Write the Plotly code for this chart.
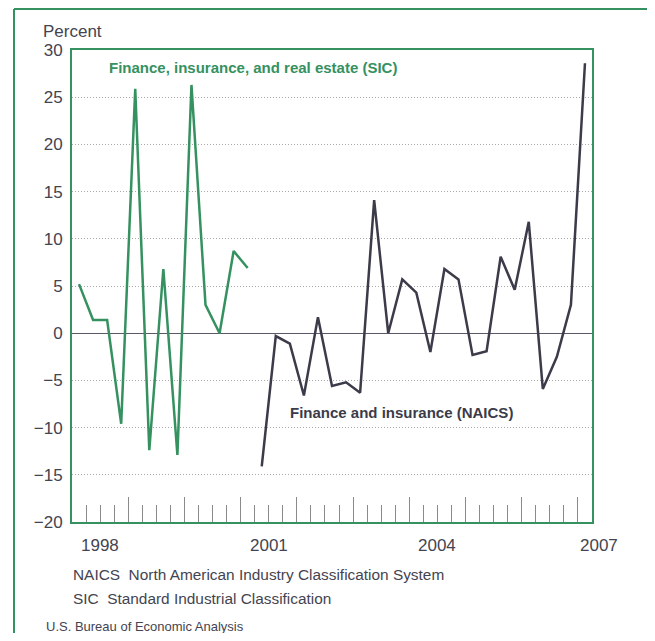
import plotly.graph_objects as go

# Quarterly percent changes
sic_quarters = ["1998Q1", "1998Q2", "1998Q3", "1998Q4",
                "1999Q1", "1999Q2", "1999Q3", "1999Q4",
                "2000Q1", "2000Q2", "2000Q3", "2000Q4",
                "2001Q1"]
sic_values = [5.2, 1.4, 1.4, -9.6, 25.9, -12.4, 6.8, -12.9, 26.3, 3.0, 0.0, 8.7, 6.9]

naics_quarters = ["2001Q2", "2001Q3", "2001Q4",
                  "2002Q1", "2002Q2", "2002Q3", "2002Q4",
                  "2003Q1", "2003Q2", "2003Q3", "2003Q4",
                  "2004Q1", "2004Q2", "2004Q3", "2004Q4",
                  "2005Q1", "2005Q2", "2005Q3", "2005Q4",
                  "2006Q1", "2006Q2", "2006Q3", "2006Q4",
                  "2007Q1"]
naics_values = [-14.1, -0.3, -1.1, -6.6, 1.7, -5.6, -5.2, -6.3, 14.1, 0.0, 5.7, 4.3,
                -2.0, 6.8, 5.7, -2.3, -1.9, 8.1, 4.6, 11.8, -5.9, -2.5, 3.0, 28.6]

year_labels = ["1998", "2001", "2004", "2007"]
year_label_pos = [1998.5, 2001.5, 2004.5, 2007.38]
y_ticks = [-20, -15, -10, -5, 0, 5, 10, 15, 20, 25, 30]


def qpos(q):
    y, n = q.split("Q")
    return int(y) + (int(n) - 1) * 0.25 + 0.125


GREEN = "#35915f"
DARK = "#3b3b4a"
TXT = "#444450"
FONT = "Liberation Sans, Arial, sans-serif"

# page body has an 8px margin; plot area should sit at page x 72..592, y 50..522
PW, PH = 520, 472
xr = [1998.0, 2007.25]


def xpaper(v):
    return (v - xr[0]) / (xr[1] - xr[0])


fig = go.Figure()
fig.add_trace(go.Scatter(x=[qpos(q) for q in sic_quarters], y=sic_values, mode="lines",
                         line=dict(color=GREEN, width=2.5), showlegend=False, hoverinfo="skip"))
fig.add_trace(go.Scatter(x=[qpos(q) for q in naics_quarters], y=naics_values, mode="lines",
                         line=dict(color=DARK, width=2.5), showlegend=False, hoverinfo="skip"))

fig.update_layout(
    width=647, height=625,
    margin=dict(l=64, r=63, t=42, b=111),
    paper_bgcolor="white", plot_bgcolor="white",
    font=dict(family=FONT, color=TXT, size=16),
    xaxis=dict(range=xr, tickmode="linear", tick0=1998, dtick=1,
               ticks="inside", ticklen=25, tickcolor="#8a8a8a", tickwidth=1,
               showticklabels=False, showgrid=False, zeroline=False,
               showline=True, linecolor=GREEN, linewidth=2, mirror=True,
               minor=dict(ticks="inside", ticklen=17, tickcolor="#8a8a8a", tickwidth=1,
                          tick0=1998, dtick=0.25, showgrid=False)),
    yaxis=dict(range=[-20, 30], tickmode="array", tickvals=y_ticks,
               ticks="", showgrid=True, gridcolor="#a8a8a8", griddash="1px,2px", gridwidth=1,
               zeroline=True, zerolinecolor="#5a5a66", zerolinewidth=1.2,
               showline=True, linecolor=GREEN, linewidth=2, mirror=True,
               tickfont=dict(size=17, color=TXT),
               ticklabelstandoff=4),
)

# outer frame (left, top, right)
fig.add_shape(type="line", xref="paper", yref="paper",
              x0=(14 - 72) / PW, x1=(14 - 72) / PW, y0=-0.25, y1=(522 - 9) / PH,
              line=dict(color=GREEN, width=2), layer="below")
fig.add_shape(type="line", xref="paper", yref="paper",
              x0=(14 - 72) / PW, x1=(652 - 72) / PW, y0=(522 - 9) / PH, y1=(522 - 9) / PH,
              line=dict(color=GREEN, width=2), layer="below")
fig.add_shape(type="line", xref="paper", yref="paper",
              x0=(652 - 72) / PW, x1=(652 - 72) / PW, y0=-0.25, y1=(522 - 9) / PH,
              line=dict(color=GREEN, width=2), layer="below")

for lab, pos in zip(year_labels, year_label_pos):
    fig.add_annotation(text=lab, x=xpaper(pos), xref="paper", yref="paper", y=(522 - 545) / PH,
                       xanchor="center", yanchor="middle", showarrow=False,
                       font=dict(size=17, color=TXT))

fig.add_annotation(text="Percent", xref="paper", yref="paper", x=(41 - 72) / PW,
                   y=(522 - 31) / PH, xanchor="left", yanchor="middle", showarrow=False,
                   font=dict(size=17, color=TXT))
fig.add_annotation(text="<b>Finance, insurance, and real estate (SIC)</b>", x=1998.62, y=28.1,
                   xanchor="left", yanchor="middle", showarrow=False,
                   font=dict(size=15, color=GREEN))
fig.add_annotation(text="<b>Finance and insurance (NAICS)</b>", x=2001.84, y=-8.4,
                   xanchor="left", yanchor="middle", showarrow=False,
                   font=dict(size=15, color=DARK))
fig.add_annotation(text="NAICS\u00a0 North American Industry Classification System",
                   xref="paper", yref="paper", x=-0.002, y=(522 - 574) / PH,
                   xanchor="left", yanchor="middle", showarrow=False,
                   font=dict(size=15.4, color=TXT))
fig.add_annotation(text="SIC\u00a0 Standard Industrial Classification",
                   xref="paper", yref="paper", x=-0.002, y=(522 - 598) / PH,
                   xanchor="left", yanchor="middle", showarrow=False,
                   font=dict(size=15.4, color=TXT))
fig.add_annotation(text="U.S. Bureau of Economic Analysis",
                   xref="paper", yref="paper", x=(44 - 72) / PW, y=(522 - 626) / PH,
                   xanchor="left", yanchor="middle", showarrow=False,
                   font=dict(size=13, color=TXT))

fig.write_html("out.html")
